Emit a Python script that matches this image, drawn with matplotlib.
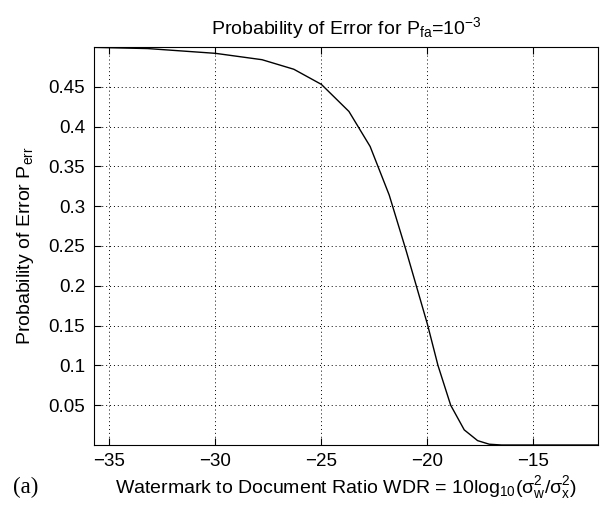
import matplotlib
matplotlib.use('Agg')
import matplotlib.pyplot as plt

# WDR in dB vs probability of error
wdr = [-35.75, -33.2, -30.0, -27.8, -26.3, -25.0, -23.7, -22.7, -21.8, -21.0,
       -20.0, -19.5, -18.9, -18.26, -17.63, -17.08, -16.5, -15.5, -11.95]
p_err = [0.4995, 0.498, 0.492, 0.484, 0.472, 0.453, 0.419, 0.375, 0.314, 0.244,
         0.152, 0.100, 0.050, 0.019, 0.0055, 0.001, 0.0, 0.0, 0.0]

x_ticks = [-35, -30, -25, -20, -15]
y_ticks = [0.05, 0.1, 0.15, 0.2, 0.25, 0.3, 0.35, 0.4, 0.45]
y_ticklabels = ['0.05', '0.1', '0.15', '0.2', '0.25', '0.3', '0.35', '0.4', '0.45']

plt.rcParams['font.family'] = ['Liberation Sans', 'DejaVu Sans']
plt.rcParams['mathtext.fontset'] = 'custom'
plt.rcParams['mathtext.rm'] = 'Liberation Sans'
plt.rcParams['mathtext.it'] = 'Liberation Sans'
plt.rcParams['mathtext.default'] = 'regular'

fig = plt.figure(figsize=(6.01, 5.05), dpi=100)
ax = fig.add_axes([0.1556, 0.1188, 0.8394, 0.7882])

ax.plot(wdr, p_err, color='black', linewidth=1.0)

ax.set_xlim(-35.75, -11.95)
ax.set_ylim(0, 0.5)
ax.set_xticks(x_ticks)
ax.set_xticklabels(['\u221235', '\u221230', '\u221225', '\u221220', '\u221215'])
ax.set_yticks(y_ticks)
ax.set_yticklabels(y_ticklabels)

ax.grid(True, linestyle=(0, (1, 3)), color='black', linewidth=0.7)
ax.tick_params(direction='in', length=5, width=0.8, top=True, right=True,
               labelsize=13.5, pad=6)
for s in ax.spines.values():
    s.set_linewidth(0.8)

ax.set_title('Probability of Error for P$_{fa}$=10$^{-3}$', fontsize=14, pad=9)
ax.set_xlabel('Watermark to Document Ratio WDR = 10log$_{10}$($\\sigma_w^2$/$\\sigma_x^2$)',
              fontsize=14, labelpad=3)
ax.set_ylabel('Probability of Error P$_{err}$', fontsize=14, labelpad=9)

fig.text(0.022, 0.024, '(a)', fontsize=16.5, family='Liberation Serif', va='baseline')

fig.savefig('out.png', dpi=100)
